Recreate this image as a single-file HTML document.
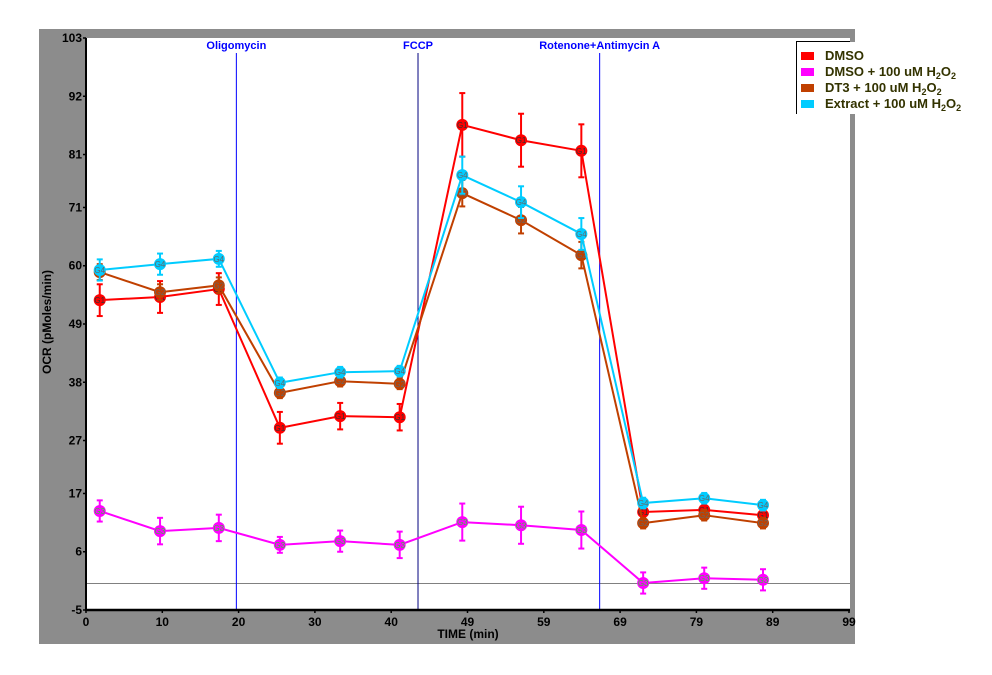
<!DOCTYPE html>
<html><head><meta charset="utf-8"><style>
body{margin:0;background:#fff;width:992px;height:670px;overflow:hidden;font-family:"Liberation Sans",Arial,sans-serif}
</style></head><body>
<svg id="chart" width="992" height="670" xmlns="http://www.w3.org/2000/svg" font-family="Liberation Sans, Arial, sans-serif">
<rect x="39" y="29" width="816" height="615" fill="#8c8c8c"/>
<rect x="86" y="38" width="764" height="572" fill="#fff"/>
<g id="grid"></g>
<g id="series"></g>
<g id="axes"></g>
<text transform="translate(51,322) rotate(-90)" text-anchor="middle" font-size="12" font-weight="bold">OCR (pMoles/min)</text>
<text x="468" y="638" text-anchor="middle" font-size="12" font-weight="bold">TIME (min)</text>
<g>
<rect x="796" y="42" width="194" height="72" fill="#fff"/>
<line x1="796.5" y1="42" x2="796.5" y2="114" stroke="#000"/>
<line x1="796" y1="41.5" x2="850" y2="41.5" stroke="#000"/>
<g><rect x="801" y="52" width="13" height="8" fill="#ff0000"/><text x="825" y="60" font-size="13" font-weight="bold" fill="#333300">DMSO</text></g>
<g><rect x="801" y="68" width="13" height="8" fill="#ff00ff"/><text x="825" y="76" font-size="13" font-weight="bold" fill="#333300">DMSO + 100 uM H<tspan font-size="9" dy="3">2</tspan><tspan dy="-3">O</tspan><tspan font-size="9" dy="3">2</tspan></text></g>
<g><rect x="801" y="84" width="13" height="8" fill="#c04000"/><text x="825" y="92" font-size="13" font-weight="bold" fill="#333300">DT3 + 100 uM H<tspan font-size="9" dy="3">2</tspan><tspan dy="-3">O</tspan><tspan font-size="9" dy="3">2</tspan></text></g>
<g><rect x="801" y="100" width="13" height="8" fill="#00ccff"/><text x="825" y="108" font-size="13" font-weight="bold" fill="#333300">Extract + 100 uM H<tspan font-size="9" dy="3">2</tspan><tspan dy="-3">O</tspan><tspan font-size="9" dy="3">2</tspan></text></g>
</g>
</svg>
<script>
const times=[1.8,9.7,17.4,25.4,33.3,41.1,49.3,57.0,64.9,73.0,81.0,88.7];
const dmso=[53.5,54.1,55.6,29.4,31.6,31.4,86.6,83.7,81.7,13.5,13.9,12.9];
const dmsoErr=[3,3,3,3,2.5,2.5,6,5,5,1.5,1.5,1.5];
const dmsoH2O2=[13.7,9.9,10.5,7.3,8.0,7.3,11.6,11.0,10.1,0.1,1.0,0.7];
const dmsoH2O2Err=[2,2.5,2.5,1.5,2,2.5,3.5,3.5,3.5,2,2,2];
const dt3=[58.8,55.0,56.3,36.0,38.2,37.7,73.7,68.6,62.0,11.4,12.9,11.4];
const dt3Err=[1.5,1.5,1.5,1,1,1,2.5,2.5,2.5,1,1,1];
const extract=[59.2,60.3,61.3,37.9,39.9,40.1,77.1,72.0,66.0,15.2,16.1,14.8];
const extractErr=[2,2,1.5,1,1,1,3.5,3,3,1,1,1];
const yTicks=[103,92,81,71,60,49,38,27,17,6,-5];
const xTickLabels=["0","10","20","30","40","49","59","69","79","89","99"];
const injTimes=[19.7,43.5,67.3];
const injLabels=["Oligomycin","FCCP","Rotenone+Antimycin A"];
const NS="http://www.w3.org/2000/svg";
const X0=86,X1=850,Y0=38,Y1=610;
const xs=t=>X0+t*(X1-X0)/100.1;
const ys=v=>Y1-(v+5)*(Y1-Y0)/108;
function mk(tag,attrs,parent){const e=document.createElementNS(NS,tag);for(const k in attrs)e.setAttribute(k,attrs[k]);parent.appendChild(e);return e;}
const grid=document.getElementById('grid'),axes=document.getElementById('axes'),ser=document.getElementById('series');
const zl=mk('line',{x1:X0,x2:X1,y1:ys(0),y2:ys(0),stroke:'#808080'},grid);


injTimes.forEach((t,i)=>{
 const g=mk('g',{},grid);
 
 
 mk('line',{x1:xs(t),x2:xs(t),y1:53,y2:Y1,stroke:i==1?'#000080':'#0000ff','stroke-width':1},g);
 const tx=mk('text',{x:xs(t),y:49,'text-anchor':'middle','font-size':11,'font-weight':'bold',fill:'#0000ff'},g);tx.textContent=injLabels[i];
});
const series=[[dmso,dmsoErr,'#ff0000','G1','#333'],[dmsoH2O2,dmsoH2O2Err,'#ff00ff','G3','#33cc33'],[dt3,dt3Err,'#c04000','G2','#666'],[extract,extractErr,'#00ccff','G4','#666']];
const names=['dmso','dmso-h2o2','dt3-h2o2','extract-h2o2'];
series.forEach(([vals,errs,col,lab,tc],si)=>{
 const g=mk('g',{},ser);
 
 
 mk('polyline',{points:vals.map((v,i)=>xs(times[i])+','+ys(v)).join(' '),fill:'none',stroke:col,'stroke-width':2},g);
 vals.forEach((v,i)=>{
  const p=mk('g',{},g);
  
  
  const x=xs(times[i]);
  mk('line',{x1:x,x2:x,y1:ys(v+errs[i]),y2:ys(v-errs[i]),stroke:col,'stroke-width':2},p);
  mk('line',{x1:x-3,x2:x+3,y1:ys(v+errs[i]),y2:ys(v+errs[i]),stroke:col,'stroke-width':2},p);
  mk('line',{x1:x-3,x2:x+3,y1:ys(v-errs[i]),y2:ys(v-errs[i]),stroke:col,'stroke-width':2},p);
  mk('circle',{cx:x,cy:ys(v),r:6,fill:col},p);
  const t=mk('text',{x:x,y:ys(v)+3,'text-anchor':'middle','font-size':8,fill:tc},p);t.textContent=lab;
 });
});
mk('line',{x1:X0,x2:X0,y1:Y0,y2:Y1+1,stroke:'#000','stroke-width':2},axes);
mk('line',{x1:X0-1,x2:X1,y1:Y1,y2:Y1,stroke:'#000','stroke-width':2.5},axes);
yTicks.forEach(v=>{
 const y=Y1-(v+5)*(Y1-Y0)/108;
 mk('line',{x1:X0-3,x2:X0,y1:y,y2:y,stroke:'#000','stroke-width':1.5},axes);
 const t=mk('text',{x:X0-4,y:y+4,'text-anchor':'end','font-size':12,'font-weight':'bold'},axes);
 
 
 t.textContent=v;
});
xTickLabels.forEach((l,i)=>{
 const x=X0+i*(X1-X0-1)/10;
 mk('line',{x1:x,x2:x,y1:Y1,y2:Y1+3,stroke:'#000','stroke-width':1.5},axes);
 const t=mk('text',{x:x,y:Y1+16,'text-anchor':'middle','font-size':12,'font-weight':'bold'},axes);
 
 
 t.textContent=l;
});
</script>
</body></html>
